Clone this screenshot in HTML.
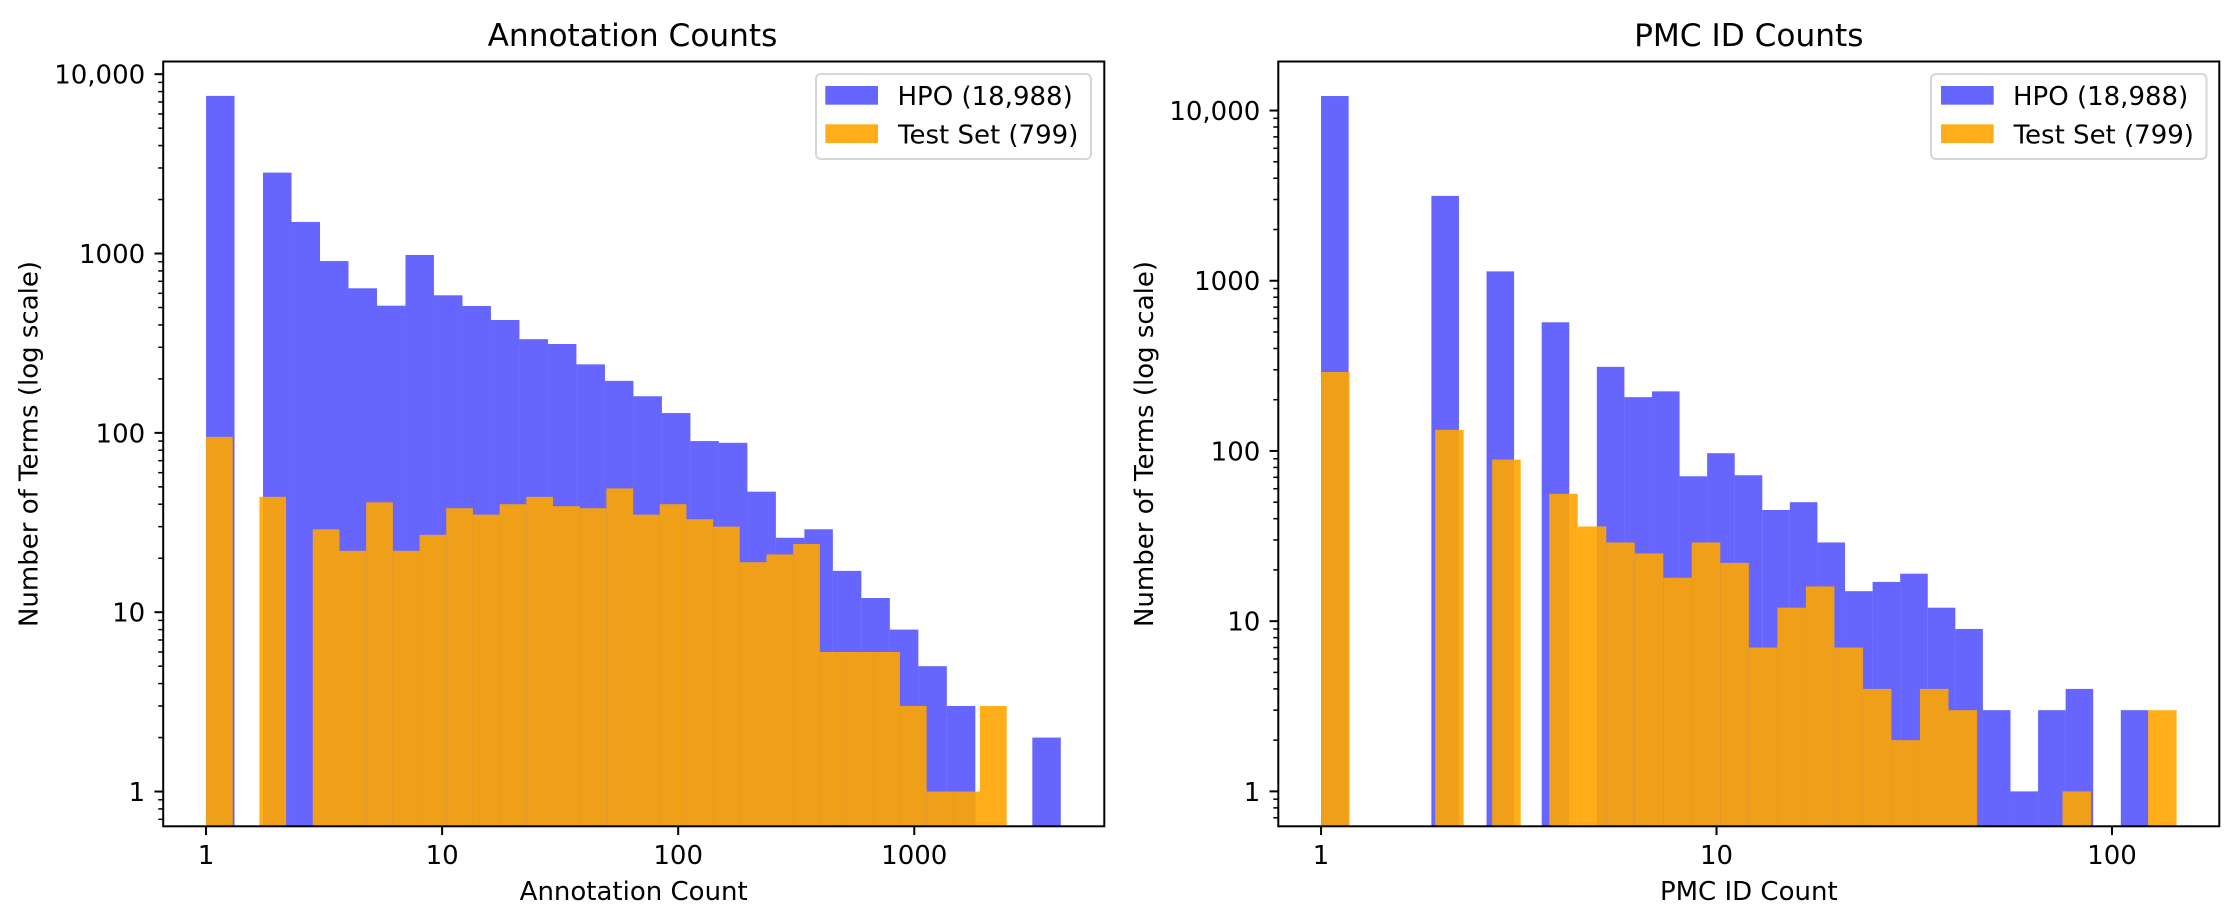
<!DOCTYPE html>
<html lang="en">
<head>
<meta charset="utf-8">
<title>Annotation and PMC ID Counts</title>
<style>
  html, body { margin: 0; padding: 0; background: #fff; }
  body { width: 2238px; height: 924px; overflow: hidden; }
  svg { display: block; font-family: "DejaVu Sans", "Liberation Sans", sans-serif; fill: #000; }
  text { font-size: 26px; }
  .title { font-size: 31.2px; text-anchor: middle; }
  .axis-label { text-anchor: middle; }
</style>
</head>
<body>
<svg id="figure" width="2238" height="924" viewBox="0 0 2238 924" xmlns="http://www.w3.org/2000/svg">
  <rect x="0" y="0" width="2238" height="924" fill="#fff"></rect>

  <g id="panel-annotation">
    <g id="annotation-marks"></g>
    <g id="annotation-axes"></g>
    <text class="title" x="632.5" y="46">Annotation Counts</text>
    <text class="axis-label" x="633.7" y="900">Annotation Count</text>
    <text class="axis-label" transform="translate(37.5 444) rotate(-90)">Number of Terms (log scale)</text>
    <g>
      <rect x="816" y="74" width="275" height="85" rx="5" fill="#fff" stroke="#d6d6d6" stroke-width="2"></rect>
      <rect x="825.3" y="86" width="52.7" height="18.7" fill="#6666ff"></rect>
      <text x="897.5" y="105">HPO (18,988)</text>
      <rect x="825.3" y="124.3" width="52.7" height="18.7" fill="#ffae19"></rect>
      <text x="898" y="143.3">Test Set (799)</text>
    </g>
  </g>

  <g id="panel-pmc">
    <g id="pmc-marks"></g>
    <g id="pmc-axes"></g>
    <text class="title" x="1748.8" y="46">PMC ID Counts</text>
    <text class="axis-label" x="1748.8" y="900">PMC ID Count</text>
    <text class="axis-label" transform="translate(1153 444) rotate(-90)">Number of Terms (log scale)</text>
    <g>
      <rect x="1931" y="74" width="275.5" height="85" rx="5" fill="#fff" stroke="#d6d6d6" stroke-width="2"></rect>
      <rect x="1941" y="86" width="52.7" height="18.7" fill="#6666ff"></rect>
      <text x="2013" y="105">HPO (18,988)</text>
      <rect x="1941" y="124.3" width="52.7" height="18.7" fill="#ffae19"></rect>
      <text x="2013.6" y="143.3">Test Set (799)</text>
    </g>
  </g>
</svg>

<script>
// Bin counts per logarithmic bin (30 bins per series).
var annotationHpoCounts = [7570, 0, 2826, 1500, 908, 640, 512, 982, 585, 510, 426, 333, 313, 241, 195, 160, 129, 90, 88, 47, 26, 29, 17, 12, 8, 5, 3, 0, 0, 2];
var annotationTestCounts = [95, 0, 44, 0, 29, 22, 41, 22, 27, 38, 35, 40, 44, 39, 38, 49, 35, 40, 33, 30, 19, 21, 24, 6, 6, 6, 3, 1, 1, 3];
var pmcHpoCounts = [12170, 0, 0, 0, 3150, 0, 1135, 0, 570, 0, 312, 207, 224, 71, 97, 72, 45, 50, 29, 15, 17, 19, 12, 9, 3, 1, 3, 4, 0, 3];
var pmcTestCounts = [291, 0, 0, 0, 133, 0, 89, 0, 56, 36, 29, 25, 18, 29, 22, 7, 12, 16, 7, 4, 2, 4, 3, 0, 0, 0, 1, 0, 0, 3];

// Largest observed value per series; bin edges run log-evenly from 1 to this.
var annotationHpoMax = 4176;
var annotationTestMax = 2463;
var pmcHpoMax = 123.6;
var pmcTestMax = 145.7;

// Tick values and labels.
var annotationXTicks = [1, 10, 100, 1000];
var annotationXTickLabels = ['1', '10', '100', '1000'];
var pmcXTicks = [1, 10, 100];
var pmcXTickLabels = ['1', '10', '100'];
var yTicks = [1, 10, 100, 1000, 10000];
var yTickLabels = ['1', '10', '100', '1000', '10,000'];

// Axis domains (log-scale limits).
var annotationXDomain = [0.6585, 6382];
var annotationYDomain = [0.64, 11770];
var pmcXDomain = [0.7796, 186.8];
var pmcYDomain = [0.6235, 19410];

var SVG_NS = 'http://www.w3.org/2000/svg';
var BLUE_FILL = 'rgb(0,0,255)';
var ORANGE_FILL = 'rgb(255,165,0)';

function makeLogScale(domain, start, end) {
  var lo = Math.log10(domain[0]);
  var hi = Math.log10(domain[1]);
  return function (v) {
    return start + (Math.log10(v) - lo) / (hi - lo) * (end - start);
  };
}

function drawSeries(group, counts, maxValue, xScale, yScale, bottom, fill, opacity, barName) {
  var n = counts.length;
  var logMax = Math.log10(maxValue);
  for (var k = 0; k < n; k++) {
    if (!(counts[k] > 0)) continue;
    var x0 = xScale(Math.pow(10, logMax * k / n));
    var x1 = xScale(Math.pow(10, logMax * (k + 1) / n));
    var top = yScale(counts[k]);
    var r = document.createElementNS(SVG_NS, 'rect');
    
    
    r.setAttribute('x', x0);
    r.setAttribute('y', top);
    r.setAttribute('width', x1 - x0);
    r.setAttribute('height', bottom - top);
    r.setAttribute('fill', fill);
    r.setAttribute('fill-opacity', opacity);
    group.appendChild(r);
  }
}

function drawTick(group, x1, y1, x2, y2, width, name) {
  var l = document.createElementNS(SVG_NS, 'line');
  
  
  l.setAttribute('x1', x1);
  l.setAttribute('y1', y1);
  l.setAttribute('x2', x2);
  l.setAttribute('y2', y2);
  l.setAttribute('stroke', '#000');
  l.setAttribute('stroke-width', width);
  group.appendChild(l);
}

function drawLabel(group, x, y, anchor, str, name) {
  var t = document.createElementNS(SVG_NS, 'text');
  
  
  t.setAttribute('x', x);
  t.setAttribute('y', y);
  t.setAttribute('text-anchor', anchor);
  t.textContent = str;
  group.appendChild(t);
}

function drawPanel(marks, axes, box, xDomain, yDomain, hpo, hpoMax, test, testMax, xTicks, xLabels) {
  var xScale = makeLogScale(xDomain, box.left, box.right);
  var yScale = makeLogScale(yDomain, box.bottom, box.top);

  drawSeries(marks, hpo, hpoMax, xScale, yScale, box.bottom, BLUE_FILL, 0.6, 'hpo-bar');
  drawSeries(marks, test, testMax, xScale, yScale, box.bottom, ORANGE_FILL, 0.9, 'test-set-bar');

  // Y minor ticks
  for (var d = -1; d <= 4; d++) {
    for (var m = 2; m <= 9; m++) {
      var v = m * Math.pow(10, d);
      if (v < yDomain[0] || v > yDomain[1]) continue;
      var ym = yScale(v);
      drawTick(axes, box.left - 5, ym, box.left, ym, 1.5, 'y-minor-tick');
    }
  }
  // Y major ticks and labels
  yTicks.forEach(function (v, i) {
    var y = yScale(v);
    drawTick(axes, box.left - 8.75, y, box.left, y, 2, 'y-major-tick');
    drawLabel(axes, box.left - 18, y + 9.4, 'end', yTickLabels[i], 'y-tick-label');
  });
  // X major ticks and labels
  xTicks.forEach(function (v, i) {
    var x = xScale(v);
    drawTick(axes, x, box.bottom, x, box.bottom + 8.75, 2, 'x-major-tick');
    drawLabel(axes, x, box.bottom + 37.5, 'middle', xLabels[i], 'x-tick-label');
  });

  // Spines
  var frame = document.createElementNS(SVG_NS, 'rect');
  
  
  frame.setAttribute('x', box.left);
  frame.setAttribute('y', box.top);
  frame.setAttribute('width', box.right - box.left);
  frame.setAttribute('height', box.bottom - box.top);
  frame.setAttribute('fill', 'none');
  frame.setAttribute('stroke', '#000');
  frame.setAttribute('stroke-width', 2);
  axes.appendChild(frame);
}

drawPanel(
  document.getElementById('annotation-marks'),
  document.getElementById('annotation-axes'),
  { left: 163.2, right: 1104.3, top: 61.5, bottom: 826.3 },
  annotationXDomain, annotationYDomain,
  annotationHpoCounts, annotationHpoMax,
  annotationTestCounts, annotationTestMax,
  annotationXTicks, annotationXTickLabels
);

drawPanel(
  document.getElementById('pmc-marks'),
  document.getElementById('pmc-axes'),
  { left: 1278.3, right: 2219.3, top: 61.5, bottom: 826.3 },
  pmcXDomain, pmcYDomain,
  pmcHpoCounts, pmcHpoMax,
  pmcTestCounts, pmcTestMax,
  pmcXTicks, pmcXTickLabels
);
</script>
</body>
</html>
